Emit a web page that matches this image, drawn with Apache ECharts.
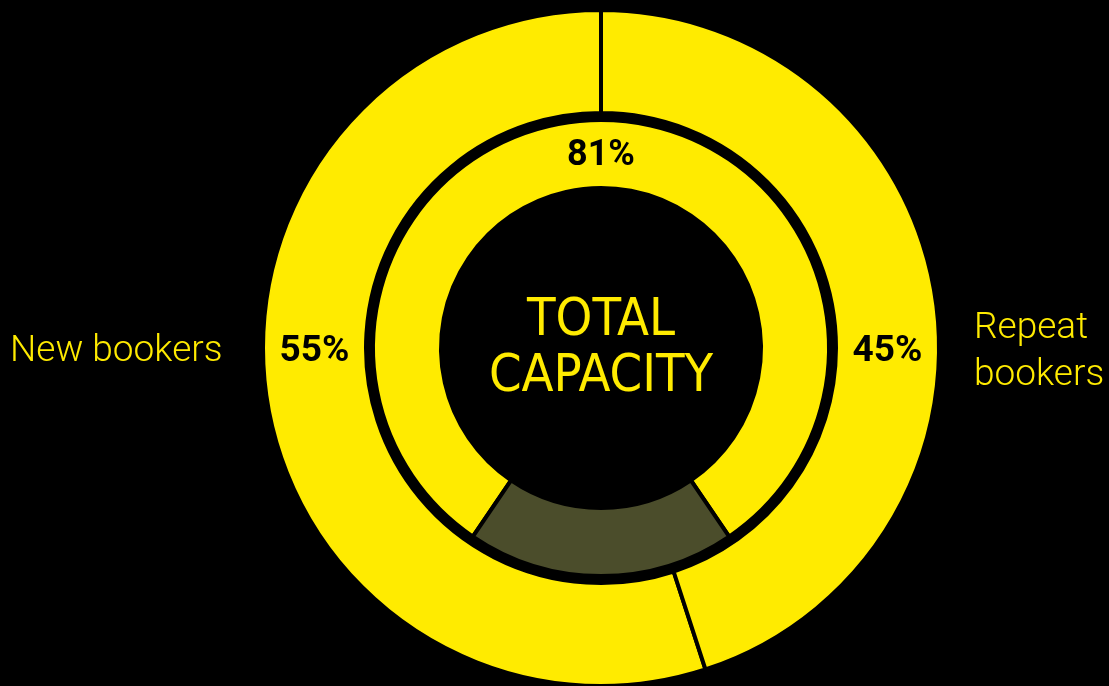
<!DOCTYPE html>
<html>
<head>
<meta charset="utf-8">
<script src="https://cdn.jsdelivr.net/npm/echarts@6/dist/echarts.min.js"></script>
<style>
  html, body { margin: 0; padding: 0; background: #000; }
  #chart { width: 1109px; height: 686px; }
</style>
</head>
<body>
<div id="chart"></div>
<script>
// 外圈：新/老订客占比
const bookerNames = ['New bookers', 'Repeat bookers']
const bookerValues = [55, 45]
// 内圈：总容量使用
const capacityNames = ['Used', 'Unused']
const capacityValues = [81, 19]
const centerTitle = ['TOTAL', 'CAPACITY']

const YELLOW = '#FFEB00'
const OLIVE = '#4B4D2B'
const cx = 601
const cy = 348
const outerR = [235, 338]
const innerR = [160, 228]

const chart = echarts.init(document.getElementById('chart'))

const midOuter = (outerR[0] + outerR[1]) / 2
const innerStart = 90 + capacityValues[0] / (capacityValues[0] + capacityValues[1]) * 180

const pctStyle = {
  fill: '#000',
  font: 'bold 37px Roboto, sans-serif',
  align: 'center',
  verticalAlign: 'middle'
}

const option = {
  backgroundColor: '#000',
  animation: false,
  series: [
    {
      type: 'pie',
      center: [cx, cy],
      radius: outerR,
      startAngle: 90,
      clockwise: false,
      silent: true,
      label: { show: false },
      labelLine: { show: false },
      itemStyle: { color: YELLOW, borderColor: '#000', borderWidth: 4 },
      data: bookerNames.map((n, i) => ({ name: n, value: bookerValues[i] }))
    },
    {
      type: 'pie',
      center: [cx, cy],
      radius: innerR,
      startAngle: innerStart,
      clockwise: true,
      silent: true,
      labelLine: { show: false },
      itemStyle: { borderColor: '#000', borderWidth: 4 },
      data: capacityNames.map((n, i) => ({
        name: n,
        value: capacityValues[i],
        itemStyle: { color: i === 0 ? YELLOW : OLIVE },
        label: {
          show: i === 0,
          position: 'inside',
          formatter: '{c}%',
          color: '#000',
          fontFamily: 'Roboto',
          fontWeight: 'bold',
          fontSize: 36,
          offset: [0, 5]
        }
      }))
    }
  ],
  graphic: [
    {
      type: 'text',
      x: cx,
      y: cy + 1,
      z: 100,
      style: {
        text: centerTitle.join('\n'),
        fill: YELLOW,
        font: '500 52px "DejaVu Sans Condensed", Roboto, sans-serif',
        lineHeight: 56,
        align: 'center',
        verticalAlign: 'middle'
      }
    },
    {
      type: 'text',
      x: cx - midOuter,
      y: cy + 4,
      z: 100,
      style: Object.assign({ text: bookerValues[0] + '%' }, pctStyle)
    },
    {
      type: 'text',
      x: cx + midOuter,
      y: cy + 4,
      z: 100,
      style: Object.assign({ text: bookerValues[1] + '%' }, pctStyle)
    },
    {
      type: 'text',
      x: 10,
      y: cy + 4,
      z: 100,
      style: {
        text: bookerNames[0],
        fill: YELLOW,
        font: '300 37px Roboto, sans-serif',
        align: 'left',
        verticalAlign: 'middle'
      }
    },
    {
      type: 'text',
      x: 974,
      y: cy + 4,
      z: 100,
      style: {
        text: bookerNames[1].replace(' ', '\n'),
        fill: YELLOW,
        font: '300 37px Roboto, sans-serif',
        lineHeight: 47,
        align: 'left',
        verticalAlign: 'middle'
      }
    }
  ]
}

chart.setOption(option)
</script>
</body>
</html>
